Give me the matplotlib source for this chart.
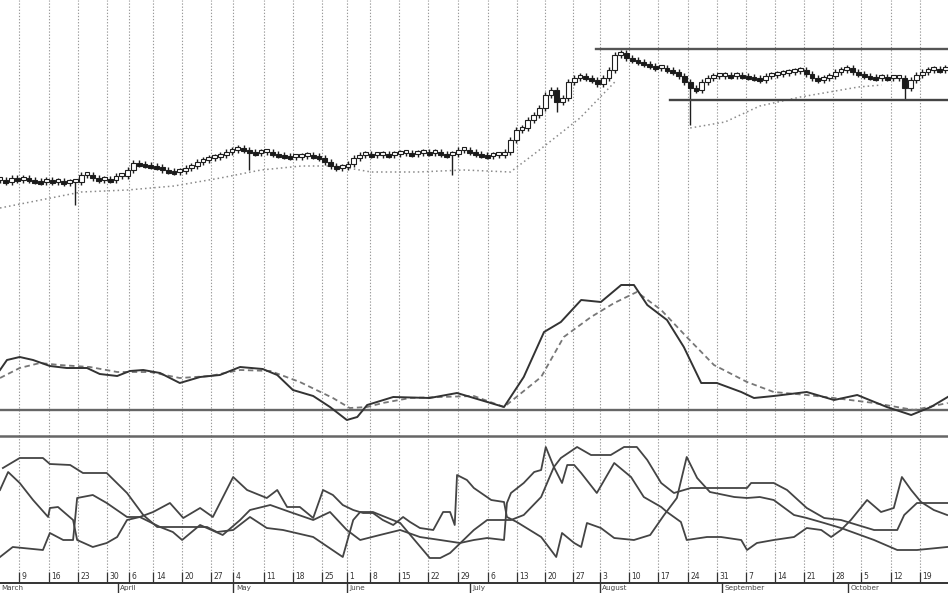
import matplotlib
matplotlib.use('Agg')
import matplotlib.pyplot as plt
from matplotlib.transforms import blended_transform_factory

# price closes, one per trading day (day 0 .. 163)
close = [24.0, 23.6, 24.4, 24.0, 24.4, 24.0, 23.8, 23.6, 24.0, 23.6,
         23.8, 23.4, 23.6, 23.6, 25.0, 25.0, 24.4, 24.0, 24.2, 24.0,
         24.8, 24.8, 26.0, 27.4, 27.2, 27.0, 26.8, 26.6, 26.0, 25.8,
         25.6, 25.8, 26.4, 26.8, 27.6, 28.0, 28.4, 28.6, 29.0, 29.6,
         30.0, 30.4, 30.0, 29.6, 29.4, 29.6, 29.6, 29.2, 29.0, 28.8,
         28.6, 28.6, 28.8, 29.0, 28.8, 28.4, 27.6, 26.8, 26.4, 26.6,
         27.2, 28.4, 29.0, 29.2, 29.0, 29.0, 29.2, 29.0, 29.2, 29.4,
         29.4, 29.2, 29.4, 29.6, 29.4, 29.6, 29.2, 29.0, 29.2, 30.0,
         30.0, 29.6, 29.2, 29.0, 28.8, 29.0, 29.0, 29.6, 32.0, 34.0,
         34.4, 36.0, 37.0, 38.4, 41.0, 42.0, 39.6, 40.4, 43.6, 44.4,
         44.8, 44.4, 44.0, 43.2, 44.4, 46.0, 49.0, 49.4, 48.4, 48.0,
         47.6, 47.2, 46.8, 46.4, 46.4, 46.0, 45.6, 44.8, 43.6, 42.4,
         42.0, 43.6, 44.4, 44.8, 44.8, 45.0, 44.8, 45.0, 44.8, 44.6,
         44.4, 44.0, 44.8, 45.0, 45.2, 45.4, 45.6, 45.8, 46.0, 45.2,
         44.4, 44.0, 44.4, 44.8, 45.6, 46.0, 46.4, 45.6, 45.2, 44.8,
         44.6, 44.4, 44.6, 44.4, 44.4, 44.4, 42.4, 44.0, 45.0, 45.6,
         46.0, 46.2, 46.0, 46.4]
# days with long lower shadows
shadow_day = [13, 43, 78, 96, 119, 156]
shadow_low = [19.0, 26.0, 25.0, 37.6, 35.0, 40.0]

# dotted moving average (two visible pieces)
ma1_x = [0, 7, 14, 22, 30, 38, 45, 52, 58, 64, 72, 80, 88, 93, 100, 106]
ma1_y = [18.4, 20.0, 21.6, 22.0, 22.8, 24.4, 26.0, 26.8, 26.8, 25.6, 25.6, 26.0, 25.6, 30.0, 36.4, 43.6]
ma2_x = [119, 125, 131, 138, 148, 152]
ma2_y = [34.4, 35.6, 38.8, 40.6, 42.6, 43.0]

# resistance / support lines
resist_x = [102.8, 163.4]
resist_y = [50.2, 50.2]
support_x = [115.5, 163.4]
support_y = [40.0, 40.0]

# oscillator (solid) and signal (dashed)
macd_x = [0, 1.2, 3.4, 5.7, 8.6, 11.5, 15, 17.2, 20.2, 22.4, 24.7, 27.6, 31, 34.5, 37.9,
          41.4, 45.3, 47.8, 50.5, 54, 56.9, 59.8, 61.6, 63.3, 67.8, 74.1, 78.8, 81.7, 86.9,
          90.3, 93.8, 96.7, 100.2, 103.6, 107.1, 109.3, 111.6, 115, 117.9, 120.9, 123.6,
          127.8, 130, 133.4, 139.1, 143.8, 147.8, 152.9, 157.1, 160.5, 163.4]
macd_y = [0.80, 1.00, 1.06, 1.00, 0.88, 0.84, 0.84, 0.72, 0.68, 0.78, 0.80, 0.74, 0.54, 0.66, 0.70,
          0.86, 0.82, 0.70, 0.40, 0.28, 0.06, -0.20, -0.14, 0.10, 0.26, 0.24, 0.34, 0.24, 0.06,
          0.66, 1.56, 1.76, 2.20, 2.16, 2.50, 2.50, 2.10, 1.80, 1.26, 0.54, 0.54,
          0.36, 0.24, 0.28, 0.36, 0.20, 0.30, 0.06, -0.10, 0.06, 0.26]
sig_x = [0, 3.4, 6.9, 10.3, 15.5, 20.2, 25.9, 31, 36.2, 41.4, 46.6, 51.7, 57.4, 60.3, 63.3,
         66, 70.7, 75.9, 81.7, 86.9, 93.3, 97.2, 101.9, 105.9, 109.8, 114, 118.4, 123.1,
         128.8, 133.4, 139.1, 143.8, 150.7, 157.6, 163.4]
sig_y = [0.64, 0.84, 0.94, 0.90, 0.86, 0.76, 0.76, 0.64, 0.68, 0.80, 0.78, 0.56, 0.24, 0.04, 0.06,
         0.14, 0.24, 0.26, 0.28, 0.06, 0.66, 1.46, 1.86, 2.14, 2.36, 2.00, 1.46, 0.90,
         0.56, 0.36, 0.30, 0.24, 0.14, 0.00, 0.14]

# lower panel: three direction lines
adx_x = [0.5, 3.4, 7.4, 8.6, 12.1, 14.3, 18.4, 21.9, 24.7, 27.1, 35.7, 37.4, 40.2, 43.1, 46.0,
         48.8, 54.0, 59.1, 60.9, 62.1, 64.3, 69.0, 74.1, 75.9, 77.6, 81.7, 84.0, 88.1, 90.3,
         93.3, 95.5, 96.7, 99.5, 101.9, 105.3, 107.6, 109.8, 111.6, 114.0, 116.2, 119.1,
         128.8, 129.5, 133.4, 135.7, 139.1, 142.1, 145.0, 150.7, 154.7, 155.9, 158.1, 163.3]
adx_y = [46.0, 50.0, 50.0, 47.6, 47.2, 44.0, 44.0, 36.0, 27.2, 22.4, 22.4, 20.4, 21.2, 26.4, 22.0,
         21.2, 18.4, 10.4, 25.2, 28.4, 28.4, 24.0, 10.0, 10.0, 12.0, 21.2, 25.2, 25.2, 27.2,
         34.4, 46.4, 50.0, 54.4, 51.2, 51.2, 54.4, 54.4, 49.2, 40.0, 36.0, 38.0,
         38.0, 40.0, 40.0, 37.2, 30.0, 26.0, 25.2, 21.2, 21.2, 27.2, 32.0, 32.0]
dip_x = [0, 1.4, 3.4, 5.7, 8.3, 8.6, 10.0, 12.6, 13.3, 16.0, 18.4, 20.2, 21.9, 24.1, 26.4,
         29.3, 31.6, 34.5, 36.7, 40.2, 42.6, 46.0, 47.8, 49.5, 51.7, 54.0, 55.7, 57.4, 59.1,
         60.9, 62.6, 64.3, 66.0, 67.8, 69.5, 70.7, 72.4, 74.7, 76.4, 77.6, 78.4, 78.8, 80.5,
         81.7, 84.7, 86.9, 87.4, 89.1, 93.3, 95.9, 96.9, 99.0, 100.2, 101.2, 103.6, 105.9,
         109.3, 112.1, 114.5, 116.7, 118.4, 120.2, 122.4, 126.6, 128.8, 131.0, 133.4, 136.9,
         139.1, 142.1, 145.0, 150.7, 154.7, 158.1, 163.3]
dip_y = [37.2, 44.4, 40.0, 33.2, 26.4, 30.0, 30.4, 25.2, 17.2, 14.4, 16.0, 18.4, 25.2, 26.4, 28.4,
         32.0, 26.0, 30.0, 26.4, 42.4, 37.2, 34.0, 37.2, 30.4, 30.4, 26.0, 37.2, 35.2, 31.2,
         29.2, 28.0, 28.0, 25.2, 23.2, 26.4, 24.4, 22.0, 21.2, 28.4, 28.4, 23.2, 43.2, 41.2,
         38.0, 33.2, 32.4, 26.4, 24.4, 18.4, 10.4, 20.0, 16.0, 14.4, 24.0, 22.0, 18.0,
         17.2, 19.2, 27.2, 34.0, 50.4, 42.0, 36.4, 34.4, 34.0, 34.4, 33.2, 27.2,
         26.0, 24.0, 22.0, 17.2, 13.2, 13.2, 14.4]
dim_x = [0, 2.2, 7.4, 8.6, 10.9, 12.6, 13.3, 16.0, 18.4, 21.9, 24.1, 27.6, 29.8, 31.4, 34.5,
         38.4, 41.4, 43.1, 46.6, 50.0, 54.0, 56.9, 59.8, 62.1, 65.5, 69.0, 72.4, 75.9, 79.3,
         81.7, 84.0, 86.9, 87.4, 88.1, 90.3, 92.1, 93.3, 94.1, 95.5, 96.9, 97.8, 99.0, 100.2,
         102.9, 105.9, 108.8, 111.0, 114.0, 115.0, 117.4, 118.4, 121.9, 124.3, 127.8, 128.8,
         130.5, 133.4, 136.9, 139.1, 141.6, 143.3, 145.0, 146.7, 149.5, 151.9, 154.1, 155.5,
         157.1, 158.8, 161.0, 163.3]
dim_y = [10.4, 14.4, 13.2, 20.0, 17.2, 17.2, 34.0, 35.2, 32.0, 26.4, 26.4, 22.4, 20.4, 17.2, 23.2,
         19.2, 25.2, 29.2, 31.2, 28.4, 25.2, 28.4, 21.2, 17.2, 19.2, 21.2, 18.4, 17.2, 16.0,
         17.2, 18.0, 17.2, 32.0, 36.0, 40.0, 44.4, 45.2, 54.4, 46.4, 40.0, 47.2, 47.2, 44.0,
         36.0, 48.0, 42.4, 34.4, 30.4, 28.4, 24.4, 17.2, 18.4, 18.4, 17.2, 13.2,
         16.0, 17.2, 18.4, 22.0, 21.2, 18.4, 21.2, 25.2, 33.2, 28.4, 30.0, 42.4,
         37.2, 32.4, 29.2, 27.2]

# weekly date ticks (trading-day position) and month starts
week_pos = [3.3, 8.4, 13.4, 18.4, 22.2, 26.4, 31.4, 36.4, 40.2, 45.5, 50.5, 55.5, 59.8, 63.8,
            68.8, 73.8, 79.0, 84.1, 89.1, 94.0, 98.8, 103.4, 108.4, 113.4, 118.6, 123.6,
            128.6, 133.6, 138.6, 143.6, 148.4, 153.6, 158.6]
week_lbl = ['9', '16', '23', '30', '6', '14', '20', '27', '4', '11', '18', '25', '1', '8',
            '15', '22', '29', '6', '13', '20', '27', '3', '10', '17', '24', '31',
            '7', '14', '21', '28', '5', '12', '19']
month_pos = [-0.3, 20.3, 40.2, 59.8, 81.0, 103.4, 124.5, 146.2]
month_lbl = ['March', 'April', 'May', 'June', 'July', 'August', 'September', 'October']

XMAX = 163.45
W, H = 948, 593

fig = plt.figure(figsize=(W / 100, H / 100), dpi=100)
ax_p = fig.add_axes([0, 1 - 250 / H, 1, 250 / H])
ax_m = fig.add_axes([0, (H - 436) / H, 1, 186 / H])
ax_o = fig.add_axes([0, (H - 583) / H, 1, 147 / H])

for ax in (ax_p, ax_m, ax_o):
    ax.set_xlim(0, XMAX)
    ax.set_xticks([])
    ax.set_yticks([])
    ax.patch.set_alpha(0)
    for s in ax.spines.values():
        s.set_visible(False)
    for xp in week_pos:
        ax.axvline(xp, color='#9a9a9a', lw=0.8, ls=(0, (1.2, 1.6)), zorder=0)

ax_p.set_ylim(10, 60)
ax_m.set_ylim(-0.52, 3.2)
ax_o.set_ylim(0, 58.8)

# candles
wick = 0.6
for d, c in enumerate(close):
    o = close[d - 1] if d > 0 else c
    lo = min(o, c) - wick
    hi = max(o, c) + wick
    if d in shadow_day:
        lo = shadow_low[shadow_day.index(d)]
    ax_p.vlines(d, lo, hi, color='#1e1e1e', lw=1.0, zorder=3)
    h = c - o
    if abs(h) < 0.6:
        h = 0.6 if h >= 0 else -0.6
    face = 'white' if c >= o else '#1a1a1a'
    ax_p.bar(d, h, bottom=o, width=0.8, color=face, edgecolor='#1e1e1e', lw=0.8, zorder=4)

ax_p.plot(ma1_x, ma1_y, color='#8a8a8a', lw=1.1, ls=(0, (1, 2)), zorder=2)
ax_p.plot(ma2_x, ma2_y, color='#8a8a8a', lw=1.1, ls=(0, (1, 2)), zorder=2)
ax_p.plot(resist_x, resist_y, color='#555555', lw=1.7, zorder=5)
ax_p.plot(support_x, support_y, color='#444444', lw=1.7, zorder=5)

# oscillator panel
ax_m.axhline(0, color='#666666', lw=1.7, zorder=1)
ax_m.plot(sig_x, sig_y, color='#777777', lw=1.3, ls=(0, (3, 2)), zorder=3)
ax_m.plot(macd_x, macd_y, color='#333333', lw=1.4, zorder=4)

# lower panel
for xs, ys in ((adx_x, adx_y), (dip_x, dip_y), (dim_x, dim_y)):
    ax_o.plot(xs, ys, color='#444444', lw=1.3, zorder=3)

for side in ('top', 'bottom'):
    ax_o.spines[side].set_visible(True)
ax_o.spines['top'].set_color('#666666')
ax_o.spines['top'].set_linewidth(1.8)
ax_o.spines['bottom'].set_color('#333333')
ax_o.spines['bottom'].set_linewidth(1.4)

for xp, lb in zip(week_pos, week_lbl):
    ax_o.vlines(xp, 0, 4.5, color='#333333', lw=0.9, zorder=4)
    ax_o.text(xp + 0.45, 2.6, lb, fontsize=5.5, color='#333333', va='center', ha='left', zorder=5)

tr = blended_transform_factory(ax_o.transData, ax_o.transAxes)
for xp, lb in zip(month_pos, month_lbl):
    ax_o.plot([xp, xp], [0, -0.07], color='#333333', lw=1.0, transform=tr, clip_on=False)
    ax_o.text(max(xp + 0.45, 0.1), -0.015, lb, fontsize=5.2, color='#444444', va='top', ha='left',
              transform=tr, clip_on=False)

fig.savefig('out.png', dpi=100, facecolor='white')
